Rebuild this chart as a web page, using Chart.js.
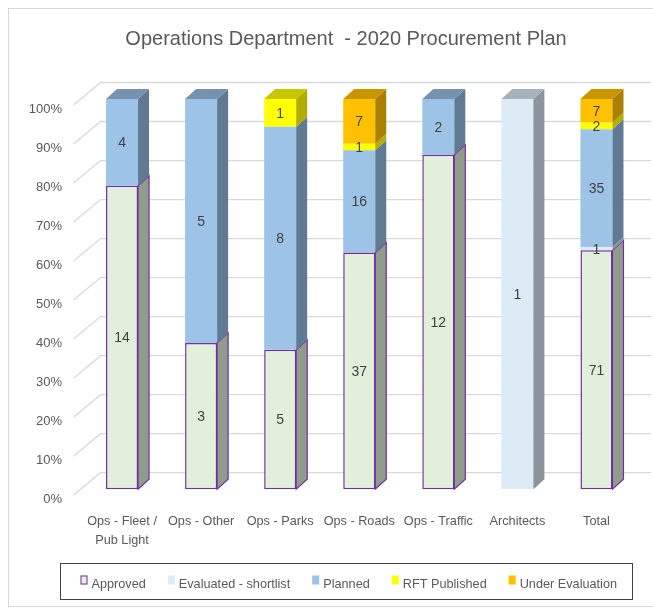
<!DOCTYPE html>
<html>
<head>
<meta charset="utf-8">
<script src="https://cdn.jsdelivr.net/npm/chart.js@4.4.1/dist/chart.umd.min.js"></script>
<style>
  html, body { margin: 0; padding: 0; background: #fff; }
</style>
</head>
<body>
<canvas id="chart" width="653" height="608"></canvas>
<script>
// --- data (counts per category) ---
const categories = [['Ops - Fleet /', 'Pub Light'], 'Ops - Other', 'Ops - Parks', 'Ops - Roads', 'Ops - Traffic', 'Architects', 'Total'];
const seriesNames = ['Approved', 'Evaluated - shortlist', 'Planned', 'RFT Published', 'Under Evaluation'];
const approved        = [14, 3, 5, 37, 12, 0, 71];
const evaluated       = [0, 0, 0, 0, 0, 1, 1];
const planned         = [4, 5, 8, 16, 2, 0, 35];
const rftPublished    = [0, 0, 1, 1, 0, 0, 2];
const underEvaluation = [0, 0, 0, 7, 0, 0, 7];
const yTicks = [0, 10, 20, 30, 40, 50, 60, 70, 80, 90, 100];

const counts = [approved, evaluated, planned, rftPublished, underEvaluation];
const totals = categories.map((_, i) => counts.reduce((s, arr) => s + arr[i], 0));

// front / side / top colours of each series
const styles = [
  { front: '#e2efda', side: '#919b8b', top: '#b5bfae', border: '#7030a0' },
  { front: '#ddebf7', side: '#8b949c', top: '#a8b2ba' },
  { front: '#9dc3e6', side: '#5f7a92', top: '#7592ae' },
  { front: '#ffff00', side: '#b0ae00', top: '#c8c600' },
  { front: '#ffc000', side: '#ab7f00', top: '#c79600' },
];

const FONT = "'Liberation Sans', Arial, sans-serif";
const TEXT = '#595959';
const DX = 11, DY = 10;   // depth of the fake 3D

// back wall grid + slanted side-wall lines + % labels
const wallPlugin = {
  id: 'wall',
  beforeDatasetsDraw(chart) {
    const { ctx, chartArea, width } = chart;
    const y = chart.scales.y;
    ctx.save();
    ctx.strokeStyle = '#d9d9d9';
    ctx.lineWidth = 1.3;
    ctx.fillStyle = TEXT;
    ctx.font = '13px ' + FONT;
    ctx.textAlign = 'right';
    ctx.textBaseline = 'middle';
    yTicks.forEach(v => {
      const py = y.getPixelForValue(v);
      ctx.beginPath();
      ctx.moveTo(chartArea.left - 9, py + 6);
      ctx.lineTo(chartArea.left + 18, py - 16.5);
      ctx.lineTo(width - 2, py - 16.5);
      ctx.stroke();
      ctx.fillText(v + '%', chartArea.left - 20.5, py + 10);
    });
    ctx.restore();
  }
};

// side + top faces, then the count labels
const depthPlugin = {
  id: 'depth',
  afterDatasetsDraw(chart) {
    const ctx = chart.ctx;
    ctx.save();
    categories.forEach((_, i) => {
      let topBar = null, topStyle = null;
      chart.data.datasets.forEach((ds, d) => {
        if (!counts[d][i]) return;
        const bar = chart.getDatasetMeta(d).data[i];
        const st = styles[d];
        const right = bar.x + bar.width / 2;
        ctx.beginPath();
        ctx.moveTo(right, bar.y);
        ctx.lineTo(right + DX, bar.y - DY);
        ctx.lineTo(right + DX, bar.base - DY);
        ctx.lineTo(right, bar.base);
        ctx.closePath();
        ctx.fillStyle = st.side;
        ctx.fill();
        if (st.border) {
          ctx.strokeStyle = st.border;
          ctx.lineWidth = 1.2;
          ctx.stroke();
        }
        topBar = bar; topStyle = st;
      });
      if (topBar) {
        const left = topBar.x - topBar.width / 2, right = topBar.x + topBar.width / 2;
        ctx.beginPath();
        ctx.moveTo(left, topBar.y);
        ctx.lineTo(left + DX, topBar.y - DY);
        ctx.lineTo(right + DX, topBar.y - DY);
        ctx.lineTo(right, topBar.y);
        ctx.closePath();
        ctx.fillStyle = topStyle.top;
        ctx.fill();
      }
    });

    ctx.fillStyle = '#404040';
    ctx.font = '14px ' + FONT;
    ctx.textAlign = 'center';
    ctx.textBaseline = 'middle';
    chart.data.datasets.forEach((ds, d) => {
      chart.getDatasetMeta(d).data.forEach((bar, i) => {
        if (!counts[d][i]) return;
        ctx.fillText(String(counts[d][i]), bar.x, (bar.y + bar.base) / 2 + 1);
      });
    });
    ctx.restore();
  }
};

// sheet frame behind, legend box on top
const framePlugin = {
  id: 'frame',
  beforeDraw(chart) {
    const { ctx, width, height } = chart;
    ctx.save();
    ctx.fillStyle = '#fff';
    ctx.fillRect(0, 0, width, height);
    ctx.strokeStyle = '#d9d9d9';
    ctx.lineWidth = 1;
    ctx.strokeRect(8.5, 8.5, width + 10, height - 10);
    ctx.restore();
  },
  afterDraw(chart) {
    const ctx = chart.ctx;
    ctx.save();
    ctx.strokeStyle = '#404040';
    ctx.lineWidth = 1;
    ctx.strokeRect(60.5, 563.5, 572, 36);
    ctx.font = '12.7px ' + FONT;
    ctx.textBaseline = 'alphabetic';
    ctx.textAlign = 'left';
    let x = 80.5;
    chart.data.datasets.forEach((ds, d) => {
      ctx.fillStyle = ds.backgroundColor;
      ctx.fillRect(x, 575.5, 7, 9);
      if (ds.borderWidth) {
        ctx.strokeStyle = ds.borderColor;
        ctx.lineWidth = 1;
        ctx.strokeRect(x + 0.5, 576, 6, 8);
      }
      ctx.fillStyle = TEXT;
      ctx.fillText(ds.label, x + 11, 587.5);
      x += 11 + ctx.measureText(ds.label).width + 22;
    });
    ctx.restore();
  }
};

new Chart(document.getElementById('chart'), {
  type: 'bar',
  data: {
    labels: categories,
    datasets: counts.map((arr, d) => ({
      label: seriesNames[d],
      data: arr.map((v, i) => v / totals[i] * 100),
      backgroundColor: styles[d].front,
      borderColor: styles[d].border || styles[d].front,
      borderWidth: styles[d].border ? 1.5 : 0,
      borderSkipped: false,
      barPercentage: 0.405,
      categoryPercentage: 1
    }))
  },
  options: {
    responsive: false,
    animation: false,
    layout: { padding: { left: 56, right: 17, top: 0, bottom: 34.7 } },
    plugins: {
      title: {
        display: true,
        text: 'Operations Department  - 2020 Procurement Plan',
        color: TEXT,
        font: { family: FONT, size: 20, weight: 'normal', lineHeight: 1.2 },
        padding: { top: 27, bottom: 48 }
      },
      legend: { display: false },
      tooltip: { enabled: false }
    },
    scales: {
      x: {
        stacked: true,
        grid: { display: false, drawTicks: false },
        border: { display: false },
        ticks: {
          color: TEXT,
          font: { family: FONT, size: 12.7, lineHeight: 1.5 },
          padding: 23,
          maxRotation: 0,
          minRotation: 0,
          autoSkip: false
        }
      },
      y: {
        stacked: true,
        min: 0,
        max: 100,
        grid: { display: false, drawTicks: false },
        border: { display: false },
        ticks: { display: false, stepSize: 10 },
        afterFit: scale => { scale.width = 26.5; }   // room for the slanted side wall
      }
    }
  },
  plugins: [framePlugin, wallPlugin, depthPlugin]
});
</script>
</body>
</html>
